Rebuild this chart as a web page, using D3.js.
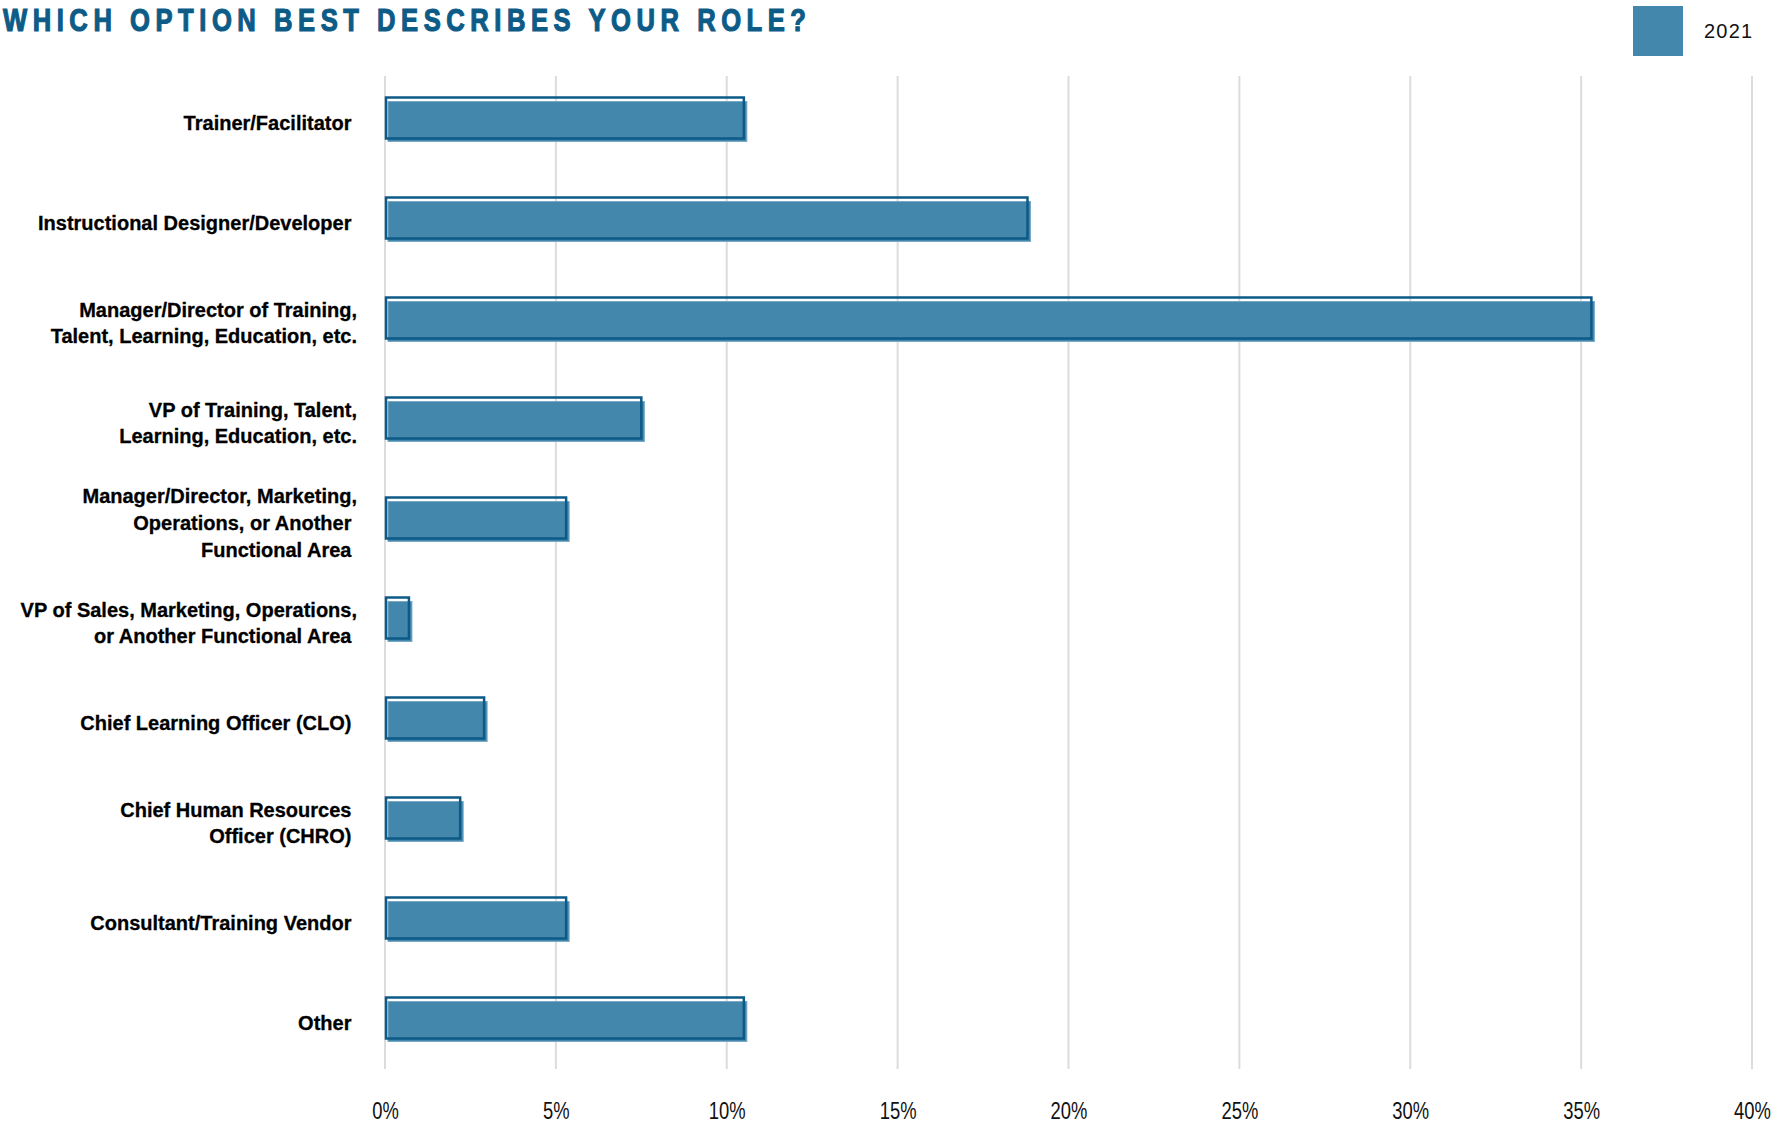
<!DOCTYPE html>
<html>
<head>
<meta charset="utf-8">
<script src="https://cdn.jsdelivr.net/npm/d3@7"></script>
<style>
  html, body { margin: 0; padding: 0; background: #fff; }
  svg { display: block; }
  .cat { white-space: pre; }
</style>
</head>
<body>
<script>
// Survey answers: share of respondents by role (2021)
const categories = [
  ["Trainer/Facilitator "],
  ["Instructional Designer/Developer "],
  ["Manager/Director of Training,", "Talent, Learning, Education, etc."],
  ["VP of Training, Talent,", "Learning, Education, etc."],
  ["Manager/Director, Marketing,", "Operations, or Another ", "Functional Area "],
  ["VP of Sales, Marketing, Operations,", "or Another Functional Area "],
  ["Chief Learning Officer (CLO) "],
  ["Chief Human Resources ", "Officer (CHRO) "],
  ["Consultant/Training Vendor "],
  ["Other "]
];
const values2021 = [10.5, 18.8, 35.3, 7.5, 5.3, 0.7, 2.9, 2.2, 5.3, 10.5];
const xTicks = [0, 5, 10, 15, 20, 25, 30, 35, 40];
const seriesName = "2021";
const titleText = "WHICH OPTION BEST DESCRIBES YOUR ROLE?";

const W = 1786, H = 1124;
const fillColor = "#4487ad";
const edgeColor = "#0c5a87";
const sans = "'Liberation Sans', Arial, Helvetica, sans-serif";

const svg = d3.select("body").append("svg")
  .attr("width", W).attr("height", H);

const keys = categories.map((c, i) => i);
const x = d3.scaleLinear().domain([0, 40]).range([385, 1752]);
const y = d3.scaleBand().domain(keys).range([68, 1068])
  .paddingInner(0.59).paddingOuter(0.295);

// vertical grid
svg.append("g").selectAll("line").data(xTicks).join("line")
  .attr("x1", d => x(d)).attr("x2", d => x(d))
  .attr("y1", 76).attr("y2", 1069)
  .attr("stroke", "#dcdcdc").attr("stroke-width", 2);

// x axis labels (narrow, tall figures)
const xAxis = d3.axisBottom(x).tickValues(xTicks).tickSize(0).tickFormat(d => d + "%");
const gx = svg.append("g").attr("transform", "translate(0,1100)").call(xAxis);
gx.select(".domain").remove();
gx.selectAll("text")
  .attr("y", 19).attr("dy", 0)
  .attr("transform", "scale(0.8,1)")
  .style("font-family", sans).style("font-size", "23px").attr("fill", "#111");

// bars: soft fill slab slightly offset under a crisp outline
const bars = svg.append("g").selectAll("g").data(keys).join("g");
bars.append("rect")
  .attr("x", x(0) + 3)
  .attr("y", d => y(d) + 4)
  .attr("width", d => Math.max(0, x(values2021[d]) - x(0)))
  .attr("height", y.bandwidth() - 1)
  .attr("fill", fillColor)
  .attr("stroke", "#79a9c6").attr("stroke-width", 1);
bars.append("rect")
  .attr("x", x(0) + 1)
  .attr("y", d => y(d))
  .attr("width", d => x(values2021[d]) - x(0) - 1)
  .attr("height", y.bandwidth())
  .attr("fill", "none")
  .attr("stroke", edgeColor).attr("stroke-width", 2.5);

// category labels
const lineH = 26.6;
const labels = svg.append("g").selectAll("text").data(keys).join("text")
  .attr("class", "cat")
  .attr("text-anchor", "end")
  .style("font-family", sans).style("font-weight", "bold").style("font-size", "20px")
  .attr("fill", "#000").attr("stroke", "#000").attr("stroke-width", 0.3);
labels.each(function(d) {
  const lines = categories[d];
  const cy = y(d) + y.bandwidth() / 2;
  const y0 = cy + 12 - (lines.length - 1) * lineH / 2;
  d3.select(this).selectAll("tspan").data(lines).join("tspan")
    .attr("x", 357)
    .attr("y", (l, i) => y0 + i * lineH)
    .text(l => l);
});

// title: condensed, heavy, widely tracked capitals
const tScale = 0.8;
const title = svg.append("text")
  .attr("transform", `translate(3,31) scale(${tScale},1)`)
  .style("font-family", sans).style("font-weight", "bold").style("font-size", "32px")
  .attr("fill", "#0d5b87").attr("stroke", "#0d5b87").attr("stroke-width", 1.2)
  .text(titleText);
const natural = title.node().getComputedTextLength();
const spacing = (803 / tScale - natural) / (titleText.length - 1);
title.style("letter-spacing", spacing + "px");

// legend
const legend = svg.append("g");
legend.append("rect").attr("x", 1633).attr("y", 6).attr("width", 50).attr("height", 50)
  .attr("fill", fillColor);
legend.append("text").attr("x", 1704).attr("y", 38)
  .style("font-family", sans).style("font-size", "20px")
  .style("letter-spacing", "1.2px")
  .attr("fill", "#111").text(seriesName);
</script>
</body>
</html>
